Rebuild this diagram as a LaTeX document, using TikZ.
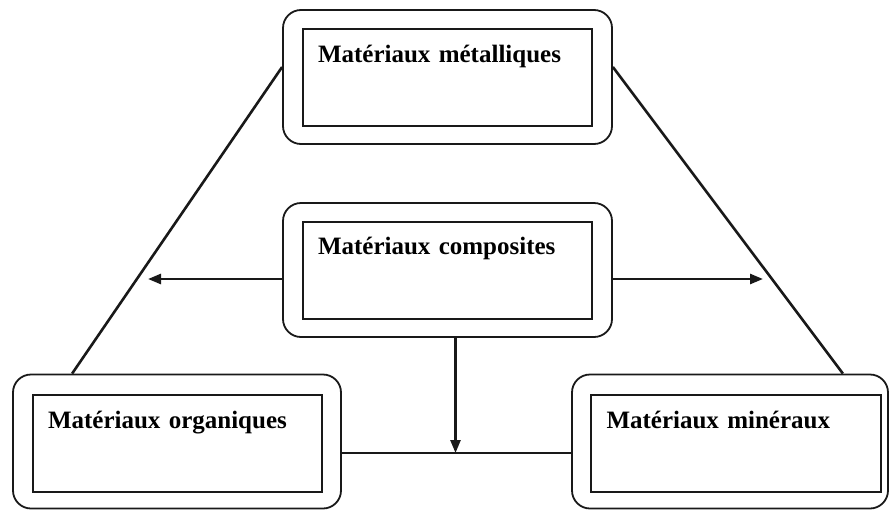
\documentclass[tikz,border=0pt]{standalone}
\usepackage{fontspec}
\setmainfont{Liberation Serif}
\usetikzlibrary{arrows.meta, positioning}
\definecolor{traitgris}{RGB}{25, 25, 25}

\begin{document}
\begin{tikzpicture}[x=1pt, y=-1pt,
                cadre/.style={draw=traitgris, line width=1.8pt, rounded corners=18pt,
                              minimum height=134pt},
                boite/.style={draw=traitgris, line width=2pt, inner sep=0pt,
                              minimum height=97pt, text width=259pt, align=left,
                              text height=33pt, text depth=64pt,
                              font=\fontsize{25}{28}\selectfont\bfseries},
                fleche/.style={-{Triangle[length=13pt, width=10pt]}, line width=2.6pt, draw=traitgris},
                liaison/.style={line width=2.6pt, draw=traitgris}]
                \useasboundingbox (0,0) rectangle (889,509);

                \node[cadre, minimum width=329pt] (metal) at (447.5, 77) {};
                \node[boite, minimum width=289pt] (metalin) at (447.5, 77.5)
                      {Matériaux métalliques};

                \node[cadre, minimum width=329pt] (compo) at (447.5, 270) {};
                \node[boite, minimum width=289pt] (compoin) at (447.5, 270)
                      {Matériaux composites};

                \node[cadre, minimum width=328pt] (orga) at (177, 441.5) {};
                \node[boite, minimum width=289pt] (orgain) at (177.5, 443.5)
                      {Matériaux organiques};

                \node[cadre, minimum width=316pt] (mine) at (730, 441.5) {};
                \node[boite, minimum width=290pt] (minein) at (736, 443.5)
                      {Matériaux minéraux};

                % liaisons du triangle
                \draw[liaison] ([yshift=10pt]metal.west) -- ([xshift=60pt]orga.north west);
                \draw[liaison] ([yshift=10pt]metal.east) -- ([xshift=-46pt]mine.north east);

                \coordinate (bas) at ([yshift=-11.5pt]orga.east);
                \draw[liaison] (bas) -- (bas -| mine.west);

                \coordinate (haut) at ([xshift=8pt]compo.south);
                \draw[fleche] (haut) -- (haut |- bas);

                \coordinate (gauche) at (148, 279);
                \coordinate (droite) at (763, 279);
                \draw[fleche] ([yshift=-9pt]compo.west) -- (gauche);
                \draw[fleche] ([yshift=-9pt]compo.east) -- (droite);
            \end{tikzpicture}
\end{document}
